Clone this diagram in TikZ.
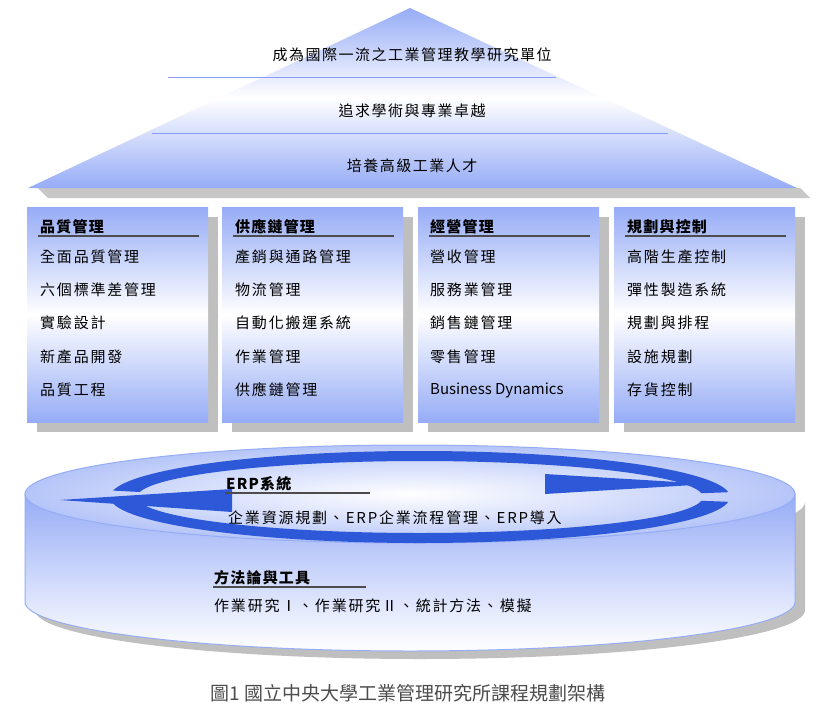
\documentclass[tikz,border=0pt]{standalone}
\usepackage{fontspec}
\usetikzlibrary{calc}
\setmainfont{Noto Sans CJK TC}
\begin{document}
\begin{tikzpicture}[x=1pt,y=-1pt,
  txt/.style={anchor=west,font=\fontsize{15}{17}\selectfont\addfontfeature{LetterSpace=12},inner sep=0pt},
  hdr/.style={anchor=west,font=\fontsize{15}{17}\selectfont\bfseries\addfontfeature{LetterSpace=8},inner sep=0pt},
  rooftxt/.style={font=\fontsize{15}{17}\selectfont\addfontfeature{LetterSpace=10},inner sep=0pt}]
\definecolor{lb}{RGB}{150,172,246}
\definecolor{db}{RGB}{45,88,215}
\useasboundingbox (0,0) rectangle (822,723);
\fill[white] (0,0) rectangle (822,723);
% roof
\fill[black!22] (38,188) -- (800,188) -- (810,198) -- (48,198) -- cycle;
\shade[top color=lb,bottom color=lb,middle color=white] (410,8) coordinate (apex) -- (28,188) -- (797,188) -- cycle;
\draw[lb!90!blue,line width=1pt] (168,77) coordinate (l1a) -- (556,77) coordinate (l1b);
\draw[lb!90!blue,line width=1pt] (152,133) coordinate (l2a) -- (668,133) coordinate (l2b);
\node[rooftxt] (r1) at (412,55) {成為國際一流之工業管理教學研究單位};
\node[rooftxt] (r2) at (412,111) {追求學術與專業卓越};
\node[rooftxt] (r3) at (412,166) {培養高級工業人才};
% columns
\foreach \x/\n in {27/a,222/b,418/c,614/d}{
  \fill[black!25] (\x+10,217) rectangle (\x+191,432);
  \shade[top color=lb,bottom color=lb,middle color=white] (\x,207) rectangle (\x+181,422);
  \draw[line width=1.2pt,black!70] (\x+11,236) -- (\x+172,236);
}
\node[hdr] (ha) at (40,227) {品質管理};
\node[txt] (a1) at (40,257) {全面品質管理};
\node[txt] (a2) at (40,290) {六個標準差管理};
\node[txt] (a3) at (40,323) {實驗設計};
\node[txt] (a4) at (40,357) {新產品開發};
\node[txt] (a5) at (40,390) {品質工程};
\node[hdr] (hb) at (235,227) {供應鏈管理};
\node[txt] (b1) at (235,257) {產銷與通路管理};
\node[txt] (b2) at (235,290) {物流管理};
\node[txt] (b3) at (235,323) {自動化搬運系統};
\node[txt] (b4) at (235,357) {作業管理};
\node[txt] (b5) at (235,390) {供應鏈管理};
\node[hdr] (hc) at (430,227) {經營管理};
\node[txt] (c1) at (430,257) {營收管理};
\node[txt] (c2) at (430,290) {服務業管理};
\node[txt] (c3) at (430,323) {銷售鏈管理};
\node[txt] (c4) at (430,357) {零售管理};
\node[anchor=west,inner sep=0pt,font=\fontsize{15}{17}\selectfont] (c5) at (430,390) {Business Dynamics};
\node[hdr] (hd) at (627,227) {規劃與控制};
\node[txt] (d1) at (627,257) {高階生產控制};
\node[txt] (d2) at (627,290) {彈性製造系統};
\node[txt] (d3) at (627,323) {規劃與排程};
\node[txt] (d4) at (627,357) {設施規劃};
\node[txt] (d5) at (627,390) {存貨控制};
% disk
\fill[black!25] (35,502) -- (35,610) arc[start angle=180,end angle=0,x radius=385,y radius=49] -- (805,502) arc[start angle=0,end angle=180,x radius=385,y radius=49] -- cycle;
\shade[top color=lb,bottom color=white] (25,494) -- (25,602) arc[start angle=180,end angle=0,x radius=385,y radius=49] -- (795,494) arc[start angle=0,end angle=180,x radius=385,y radius=49] -- cycle;
\draw[lb,line width=1pt] (25,494) -- (25,602) arc[start angle=180,end angle=0,x radius=385,y radius=49] -- (795,494);
\shade[inner color=white,outer color=lb!70] (410,494) ellipse[x radius=385,y radius=49];
\draw[lb,line width=1pt] (410,494) ellipse[x radius=385,y radius=49];
% circular arrows
\coordinate (ec) at (420,497);
\foreach \s/\e in {270/188,174/90,270/354,6/90}{
  \fill[db] ($(ec)+(\s:310 and 46)$) arc[start angle=\s,end angle=\e,x radius=310,y radius=46]
     -- ($(ec)+(\e:283 and 36)$) arc[start angle=\e,end angle=\s,x radius=283,y radius=36] -- cycle;
}
\fill[db] (60,500) -- (232,489) -- (232,512) -- cycle;
\fill[db] (710,484) -- (545,474) -- (545,494) -- cycle;
\node[hdr] (e0) at (226,484) {ERP系統};
\draw[line width=1.2pt,black!70] (225,493) -- (370,493);
\node[txt] (e1) at (228,518) {企業資源規劃、ERP企業流程管理、ERP導入};
\node[hdr] (m0) at (214,578) {方法論與工具};
\draw[line width=1.2pt,black!70] (213,587) -- (366,587);
\node[txt] (m1) at (214,606) {作業研究Ⅰ、作業研究Ⅱ、統計方法、模擬};
\node[inner sep=0pt,font=\fontsize{19}{21}\selectfont,text=black!70] (cap) at (408,693) {圖1 國立中央大學工業管理研究所課程規劃架構};
\end{tikzpicture}
\end{document}
